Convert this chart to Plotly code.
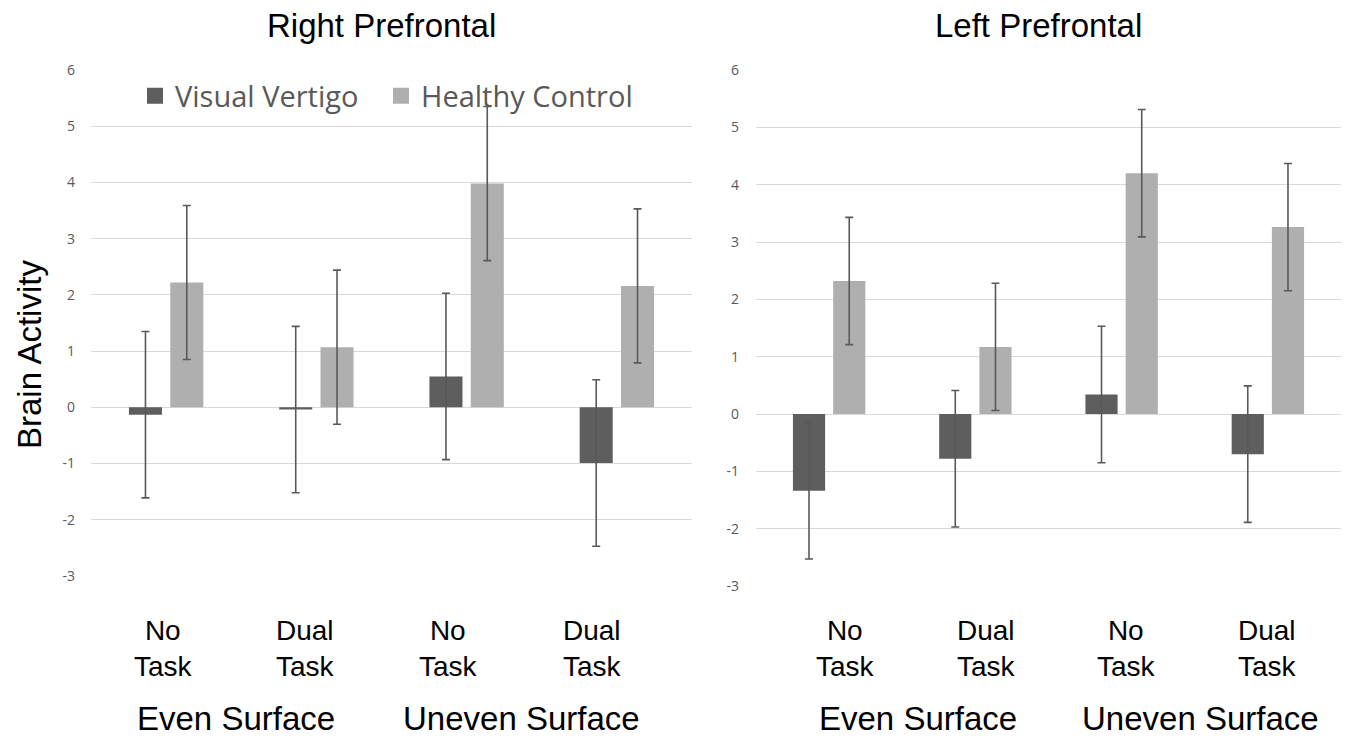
import plotly.graph_objects as go

# ---- data ----
categories = ["Even|No Task", "Even|Dual Task", "Uneven|No Task", "Uneven|Dual Task"]
task_labels = ["No<br>Task", "Dual<br>Task", "No<br>Task", "Dual<br>Task"]
surface_labels = ["Even Surface", "Uneven Surface"]
series_names = ["Visual Vertigo", "Healthy Control"]

# Right Prefrontal
right_vv = [-0.13, -0.04, 0.55, -0.99]
right_vv_err = [1.48, 1.48, 1.48, 1.48]
right_hc = [2.22, 1.07, 3.98, 2.16]
right_hc_err = [1.37, 1.37, 1.37, 1.37]

# Left Prefrontal
left_vv = [-1.34, -0.78, 0.34, -0.70]
left_vv_err = [1.19, 1.19, 1.19, 1.19]
left_hc = [2.32, 1.17, 4.20, 3.26]
left_hc_err = [1.11, 1.11, 1.11, 1.11]

y_ticks = [-3, -2, -1, 0, 1, 2, 3, 4, 5, 6]
y_ticktext = [str(v) for v in y_ticks]
panel_titles = ["Right Prefrontal", "Left Prefrontal"]
y_title = "Brain Activity"

# ---- style ----
OFF = 8                      # page body margin of the browser
W, H = 1350 - OFF, 737 - OFF
DARK = "#5e5e5e"
LIGHT = "#afafaf"
ERR = "#595959"
GRID = "#d9d9d9"
TICKC = "#595959"
FONT_SANS = "Arial, Liberation Sans, sans-serif"
FONT_UI = "Open Sans, Lato, sans-serif"

fig = go.Figure()

def add_pair(vv, vv_err, hc, hc_err, xa, ya):
    fig.add_trace(go.Bar(
        x=categories, y=vv, name=series_names[0], marker=dict(color=DARK, line=dict(width=0)),
        error_y=dict(type="data", array=vv_err, visible=True, color=ERR, thickness=1.6, width=4),
        xaxis=xa, yaxis=ya, showlegend=False))
    fig.add_trace(go.Bar(
        x=categories, y=hc, name=series_names[1], marker=dict(color=LIGHT, line=dict(width=0)),
        error_y=dict(type="data", array=hc_err, visible=True, color=ERR, thickness=1.6, width=4),
        xaxis=xa, yaxis=ya, showlegend=False))

add_pair(right_vv, right_vv_err, right_hc, right_hc_err, "x", "y")
add_pair(left_vv, left_vv_err, left_hc, left_hc_err, "x2", "y2")

# legend-only entries (larger square swatches, no data drawn), one legend box each
for nm, col, lg in zip(series_names, [DARK, LIGHT], ["legend", "legend2"]):
    fig.add_trace(go.Scatter(x=[None], y=[None], mode="markers", name=nm,
                             marker=dict(symbol="square", size=18, color=col),
                             xaxis="x", yaxis="y", showlegend=True, legend=lg))

def px_x(p):
    return (p - OFF) / W

def px_y(p):
    return 1 - (p - OFF) / H

yax = dict(range=[-3, 6], tickvals=y_ticks, ticktext=y_ticktext, showgrid=True,
           gridcolor=GRID, gridwidth=1, zeroline=False, showline=False, ticks="",
           automargin=False,
           tickfont=dict(family=FONT_UI, size=14, color=TICKC), fixedrange=True)
xax = dict(showticklabels=False, showgrid=False, zeroline=False, showline=False, ticks="",
           automargin=False, categoryorder="array", categoryarray=categories)
leg = dict(orientation="h", xanchor="left", yanchor="middle", y=px_y(96),
           font=dict(family=FONT_UI, size=29, color=TICKC), bgcolor="rgba(0,0,0,0)")

fig.update_layout(
    width=W, height=H, autosize=False,
    margin=dict(l=0, r=0, t=0, b=0, pad=0, autoexpand=False),
    paper_bgcolor="white", plot_bgcolor="white",
    barmode="group", bargap=0.45, bargroupgap=0.2,
    xaxis=dict(domain=[px_x(91), px_x(692)], anchor="y", **xax),
    yaxis=dict(domain=[px_y(576), px_y(70)], anchor="x", ticklabelstandoff=15, **yax),
    xaxis2=dict(domain=[px_x(756), px_x(1341)], anchor="y2", **xax),
    yaxis2=dict(domain=[px_y(586), px_y(70)], anchor="x2", ticklabelstandoff=16, **yax),
    legend=dict(x=px_x(135), **leg),
    legend2=dict(x=px_x(381), **leg),
    showlegend=True,
)

ann = []
for title, cx in zip(panel_titles, [382, 1038]):
    ann.append(dict(text=title, x=px_x(cx), y=px_y(25), xref="paper", yref="paper",
                    xanchor="center", yanchor="middle", showarrow=False,
                    font=dict(family=FONT_SANS, size=33, color="black")))
ann.append(dict(text=y_title, x=px_x(29), y=px_y(355), xref="paper", yref="paper",
                xanchor="center", yanchor="middle", textangle=-90, showarrow=False,
                font=dict(family=FONT_SANS, size=33, color="black")))
task_shift = {"x": [-3, -11, -18, -24], "x2": [16, 11, 5, 0]}
surf_shift = {"x": [-5, -20], "x2": [16, 6]}
for xr in ["x", "x2"]:
    for cat, lab, sh in zip(categories, task_labels, task_shift[xr]):
        ann.append(dict(text=lab, x=cat, xref=xr, y=px_y(648), yref="paper",
                        xanchor="center", yanchor="middle", xshift=sh, showarrow=False,
                        font=dict(family=FONT_SANS, size=28, color="black")))
    for i, (lab, sh) in enumerate(zip(surface_labels, surf_shift[xr])):
        ann.append(dict(text=lab, x=0.5 + 2 * i, xref=xr, y=px_y(718), yref="paper",
                        xanchor="center", yanchor="middle", xshift=sh, showarrow=False,
                        font=dict(family=FONT_SANS, size=33, color="black")))
fig.update_layout(annotations=ann)

fig.write_html("out.html")
